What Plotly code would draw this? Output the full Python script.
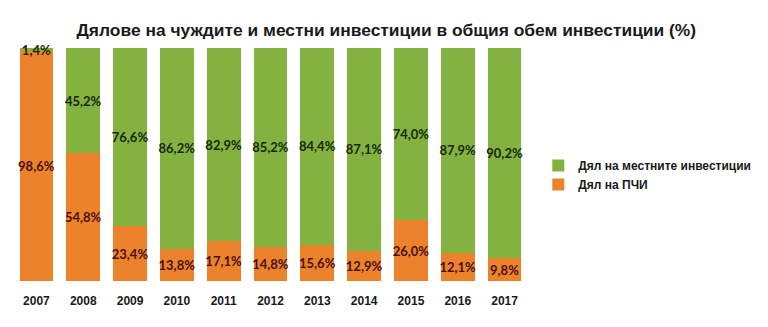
import plotly.graph_objects as go

years = ["2007", "2008", "2009", "2010", "2011", "2012", "2013", "2014", "2015", "2016", "2017"]
fdi_share = [98.6, 54.8, 23.4, 13.8, 17.1, 14.8, 15.6, 12.9, 26.0, 12.1, 9.8]
local_share = [1.4, 45.2, 76.6, 86.2, 82.9, 85.2, 84.4, 87.1, 74.0, 87.9, 90.2]

label_font = dict(family="Lato", size=13, weight="bold")

fig = go.Figure()
fig.add_trace(go.Bar(
    x=years, y=fdi_share, name="Дял на ПЧИ",
    marker=dict(color="#ec822c", line=dict(width=0)),
    texttemplate="%{y:.1f}%", textposition="inside", insidetextanchor="middle",
    textangle=0, constraintext="none", cliponaxis=False,
    textfont=dict(label_font, color="#4a1010"),
))
fig.add_trace(go.Bar(
    x=years, y=local_share, name="Дял на местните инвестиции",
    marker=dict(color="#84b240", line=dict(width=0)),
    texttemplate="%{y:.1f}%", textposition="inside", insidetextanchor="middle",
    textangle=0, constraintext="none", cliponaxis=False,
    textfont=dict(label_font, color="#17280b"),
))

fig.update_layout(
    width=768, height=327,
    margin=dict(l=13, r=221, t=48, b=46),
    barmode="stack", bargap=0.28,
    separators=", ",
    paper_bgcolor="white", plot_bgcolor="white",
    uniformtext=dict(minsize=13, mode="show"),
    title=dict(
        text="<b>Дялове на чуждите и местни инвестиции в общия обем инвестиции (%)</b>",
        x=0.503, xanchor="center", y=0.908, yanchor="middle",
        font=dict(family="Liberation Sans", size=17.4, color="#1a1a1a"),
    ),
    xaxis=dict(
        showgrid=False, showline=False, ticks="", ticklabelstandoff=11,
        tickfont=dict(family="Liberation Sans", size=12, color="#1a1a1a", weight="bold"),
    ),
    yaxis=dict(range=[0, 100], visible=False),
    legend=dict(
        x=1.02, xanchor="left", y=0.455, yanchor="middle",
        traceorder="reversed", itemwidth=30, tracegroupgap=0,
        font=dict(family="Liberation Sans", size=12, color="#1a1a1a", weight="bold"),
    ),
    showlegend=True,
)

fig.write_html("out.html")
